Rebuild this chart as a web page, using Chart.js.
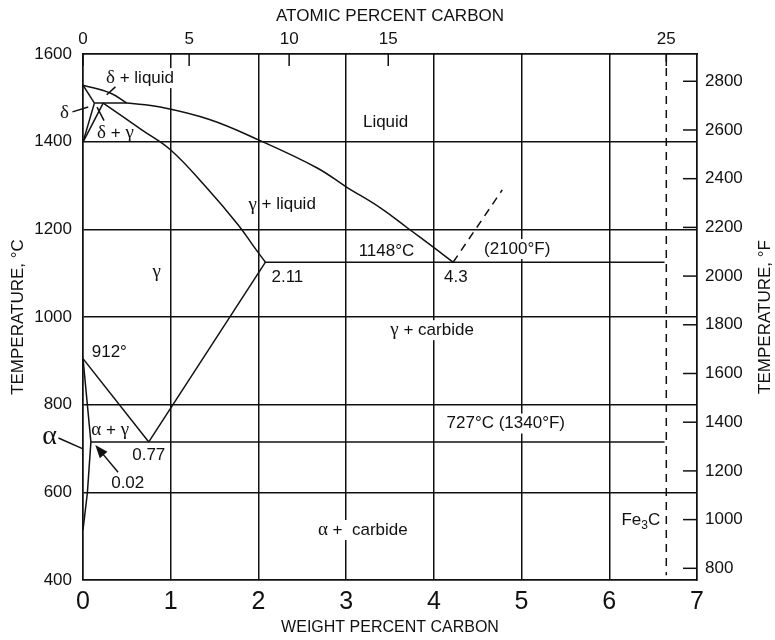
<!DOCTYPE html>
<html>
<head>
<meta charset="utf-8">
<script src="https://cdn.jsdelivr.net/npm/chart.js@4.4.1/dist/chart.umd.min.js"></script>
<style>
  body { margin: 0; background: #fff; }
  canvas { display: block; }
</style>
</head>
<body>
<canvas id="FeC" width="775" height="640"></canvas>
<script>
// boundaries as [weight % C, temperature °C]
const deltaLiquidus = [[0.0, 1529], [0.31, 1511], [0.50, 1488]];
const liquidus = [[0.50, 1488], [0.88, 1479], [1.45, 1450], [2.0, 1404], [2.67, 1340], [3.0, 1297], [3.39, 1249], [3.70, 1203], [3.99, 1160], [4.22, 1125]];
const deltaSolidus = [[0.0, 1529], [0.13, 1488]];
const deltaSolvus = [[0.13, 1488], [0.0, 1399]];
const gammaDelta = [[0.23, 1488], [0.0, 1399]];
const peritectic = [[0.13, 1488], [0.50, 1488]];
const solidus = [[0.23, 1488], [0.67, 1427], [1.0, 1381], [1.40, 1297], [1.77, 1210], [1.95, 1160], [2.08, 1125]];
const acm = [[2.08, 1125], [0.75, 715]];
const a3 = [[0.0, 905], [0.75, 715]];
const alphaSolvus = [[0.0, 905], [0.09, 715], [0.05, 599], [0.0, 514]];
const eutectic = [[2.08, 1125], [6.63, 1125]];
const eutectoid = [[0.09, 715], [6.63, 715]];
const cementite = [[6.65, 1600], [6.65, 411]];
const liquidusExt = [[4.22, 1125], [4.78, 1290]];

// tick labels
const wtTicks = [0, 1, 2, 3, 4, 5, 6, 7];
const tempCTicks = [400, 600, 800, 1000, 1200, 1400, 1600];
const tempFTicks = [800, 1000, 1200, 1400, 1600, 1800, 2000, 2200, 2400, 2600, 2800];
const atomicLabels = ["0", "5", "10", "15", "25"];
const atomicAtWt = [0, 1.21, 2.35, 3.48, 6.65];

// phase labels, [text, wt %, °C, mask grid behind]
const phaseLabels = [
  ["δ + liquid", 0.65, 1545, true],
  ["δ", -0.21, 1465, false],
  ["δ + γ", 0.37, 1420, false],
  ["Liquid", 3.45, 1445, false],
  ["γ + liquid", 2.27, 1256, false],
  ["γ", 0.84, 1102, false],
  ["2.11", 2.33, 1091, false],
  ["1148°C", 3.46, 1150, false],
  ["4.3", 4.25, 1091, false],
  ["(2100°F)", 4.95, 1155, true],
  ["912°", 0.30, 920, false],
  ["γ + carbide", 3.98, 970, true],
  ["α + γ", 0.31, 742, false],
  ["0.77", 0.75, 685, false],
  ["0.02", 0.51, 621, false],
  ["727°C (1340°F)", 4.82, 757, true],
  ["α +  carbide", 3.19, 514, true]
];
// leader lines [wt1, t1, wt2, t2]
const leaders = [
  [0.27, 1507, 0.37, 1525],
  [-0.12, 1468, 0.06, 1479],
  [0.16, 1479, 0.24, 1448],
  [-0.28, 724, 0.0, 699]
];
const arrow02 = [0.40, 646, 0.14, 708];

const INK = "#111";
const FAMILY = "'Liberation Sans', Arial, Helvetica, sans-serif";
const GREEK = "'Liberation Serif', 'Times New Roman', serif";
Chart.defaults.font.family = FAMILY;
Chart.defaults.color = INK;

// split text into runs so greek letters use a serif face
function runs(text, size) {
  return text.split(/([αγδ])/).filter(s => s).map(s => ({
    s, font: /[αγδ]/.test(s) ? (size + 2) + "px " + GREEK : size + "px " + FAMILY
  }));
}
function mixedWidth(ctx, text, size) {
  return runs(text, size).reduce((w, r) => { ctx.font = r.font; return w + ctx.measureText(r.s).width; }, 0);
}
function drawMixed(ctx, text, cx, cy, size) {
  let x = cx - mixedWidth(ctx, text, size) / 2;
  ctx.textAlign = "left";
  runs(text, size).forEach(r => {
    ctx.font = r.font;
    ctx.fillText(r.s, x, cy);
    x += ctx.measureText(r.s).width;
  });
}

function boundary(points, dash, tension) {
  return {
    data: points.map(([x, y]) => ({x, y})),
    showLine: true,
    borderColor: INK,
    borderWidth: 1.5,
    borderDash: dash || [],
    pointRadius: 0,
    tension: tension || 0,
    xAxisID: "x",
    yAxisID: "y"
  };
}

const phaseText = {
  id: "phaseText",
  beforeDatasetsDraw(chart) {
    const {ctx, scales} = chart;
    ctx.save();
    ctx.fillStyle = "#fff";
    phaseLabels.filter(l => l[3]).forEach(([text, wt, t]) => {
      const w = mixedWidth(ctx, text, 17);
      ctx.fillRect(scales.x.getPixelForValue(wt) - w / 2 - 3, scales.y.getPixelForValue(t) - 10, w + 6, 20);
    });
    ctx.restore();
  },
  afterDatasetsDraw(chart) {
    const {ctx, scales, chartArea} = chart;
    const px = v => scales.x.getPixelForValue(v);
    const py = v => scales.y.getPixelForValue(v);
    ctx.save();
    ctx.fillStyle = INK;
    ctx.strokeStyle = INK;
    ctx.lineWidth = 1.5;
    ctx.textBaseline = "middle";
    phaseLabels.forEach(([text, wt, t]) => drawMixed(ctx, text, px(wt), py(t), 17));

    drawMixed(ctx, "α", px(-0.38), py(726), 26);

    // Fe3C with subscript
    ctx.textAlign = "left";
    ctx.font = "17px " + FAMILY;
    const wFe = ctx.measureText("Fe").width, wC = ctx.measureText("C").width;
    ctx.font = "12px " + FAMILY;
    const w3 = ctx.measureText("3").width;
    const fx = px(6.36) - (wFe + w3 + wC) / 2;
    const fy = py(537);
    ctx.font = "17px " + FAMILY;
    ctx.fillText("Fe", fx, fy);
    ctx.font = "12px " + FAMILY;
    ctx.fillText("3", fx + wFe, fy + 6);
    ctx.font = "17px " + FAMILY;
    ctx.fillText("C", fx + wFe + w3, fy);

    leaders.forEach(([a, b, c, d]) => {
      ctx.beginPath();
      ctx.moveTo(px(a), py(b));
      ctx.lineTo(px(c), py(d));
      ctx.stroke();
    });

    // arrow to the 0.02 point
    const [ax, ay, bx, by] = [px(arrow02[0]), py(arrow02[1]), px(arrow02[2]), py(arrow02[3])];
    const ang = Math.atan2(by - ay, bx - ax);
    ctx.beginPath();
    ctx.moveTo(ax, ay);
    ctx.lineTo(bx - 8 * Math.cos(ang), by - 8 * Math.sin(ang));
    ctx.stroke();
    ctx.beginPath();
    ctx.moveTo(bx, by);
    ctx.lineTo(bx - 13 * Math.cos(ang) + 5 * Math.sin(ang), by - 13 * Math.sin(ang) - 5 * Math.cos(ang));
    ctx.lineTo(bx - 13 * Math.cos(ang) - 5 * Math.sin(ang), by - 13 * Math.sin(ang) + 5 * Math.cos(ang));
    ctx.closePath();
    ctx.fill();

    // inner ticks: °F on the right, atomic % on top
    tempFTicks.forEach(v => {
      const y = scales.yF.getPixelForValue(v);
      ctx.beginPath();
      ctx.moveTo(chartArea.right - 14, y);
      ctx.lineTo(chartArea.right, y);
      ctx.stroke();
    });
    atomicAtWt.forEach(v => {
      const x = scales.xTop.getPixelForValue(v);
      ctx.beginPath();
      ctx.moveTo(x, chartArea.top);
      ctx.lineTo(x, chartArea.top + 12);
      ctx.stroke();
    });

    // right axis title reads bottom to top
    ctx.translate(765, (chartArea.top + chartArea.bottom) / 2);
    ctx.rotate(-Math.PI / 2);
    ctx.textAlign = "center";
    ctx.font = "17px " + FAMILY;
    ctx.fillText("TEMPERATURE, °F", 0, 0);
    ctx.restore();
  }
};

const gridStyle = {color: INK, lineWidth: 1.5, drawTicks: false};
const borderStyle = {color: INK, width: 1.5};
const plain = v => String(v);

new Chart(document.getElementById("FeC"), {
  type: "scatter",
  data: {
    datasets: [
      boundary(deltaLiquidus, null, 0.4),
      boundary(liquidus, null, 0.4),
      boundary(deltaSolidus),
      boundary(deltaSolvus),
      boundary(gammaDelta),
      boundary(peritectic),
      boundary(solidus, null, 0.4),
      boundary(acm),
      boundary(a3),
      boundary(alphaSolvus),
      boundary(eutectic),
      boundary(eutectoid),
      boundary(cementite, [8, 6]),
      boundary(liquidusExt, [8, 6])
    ]
  },
  options: {
    responsive: false,
    animation: false,
    events: [],
    layout: {padding: 0},
    plugins: {legend: {display: false}, tooltip: {enabled: false}},
    scales: {
      x: {
        type: "linear", position: "bottom", min: 0, max: 7,
        afterBuildTicks: s => { s.ticks = wtTicks.map(v => ({value: v})); },
        ticks: {font: {size: 25}, padding: 7, maxRotation: 0, callback: plain},
        grid: gridStyle, border: borderStyle,
        title: {display: true, text: "WEIGHT PERCENT CARBON", font: {size: 16}, padding: {top: 0, bottom: 3}},
        afterFit: s => { s.height = 60; }
      },
      xTop: {
        type: "linear", position: "top", min: 0, max: 7,
        afterBuildTicks: s => { s.ticks = atomicAtWt.map(v => ({value: v})); },
        ticks: {font: {size: 17}, padding: 4, maxRotation: 0, callback: (v, i) => atomicLabels[i]},
        grid: {display: false, drawTicks: false}, border: borderStyle,
        title: {display: true, text: "ATOMIC PERCENT CARBON", font: {size: 17}, padding: {top: 6, bottom: 0}},
        afterFit: s => { s.height = 54; }
      },
      y: {
        type: "linear", position: "left", min: 400, max: 1600,
        afterBuildTicks: s => { s.ticks = tempCTicks.map(v => ({value: v})); },
        ticks: {font: {size: 17}, padding: 11, callback: plain},
        grid: gridStyle, border: borderStyle,
        title: {display: true, text: "TEMPERATURE, °C", font: {size: 17}, padding: {top: 8, bottom: 0}},
        afterFit: s => { s.width = 83; }
      },
      yF: {
        type: "linear", position: "right", min: 400 * 1.8 + 32, max: 1600 * 1.8 + 32,
        afterBuildTicks: s => { s.ticks = tempFTicks.map(v => ({value: v})); },
        ticks: {font: {size: 17}, padding: 8, callback: plain},
        grid: {display: false, drawTicks: false}, border: borderStyle,
        afterFit: s => { s.width = 78; }
      }
    }
  },
  plugins: [phaseText]
});
</script>
</body>
</html>
